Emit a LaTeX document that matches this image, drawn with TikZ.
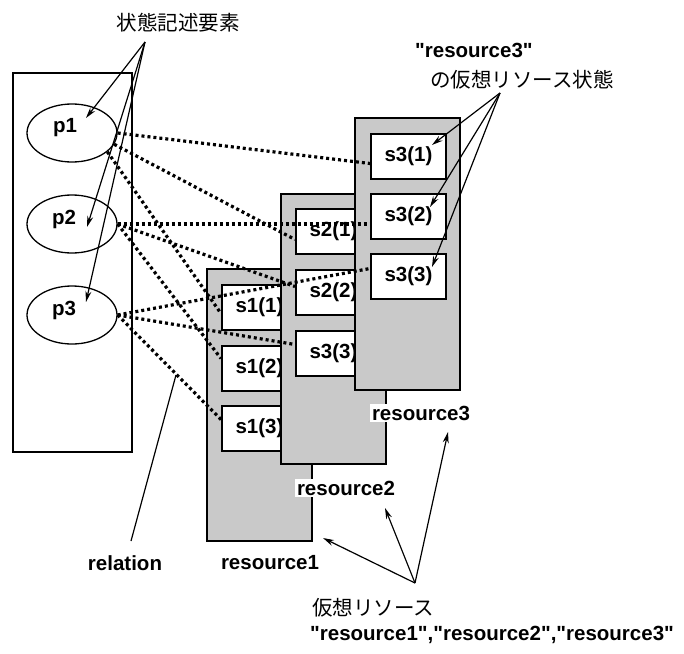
\documentclass[tikz,border=0pt]{standalone}
\usepackage{fontspec}
\setmainfont{Liberation Sans}[Ligatures=TeXOff]
\newfontfamily\jpfont{Noto Sans CJK JP}
\usetikzlibrary{arrows.meta,calc,shapes.geometric}
\begin{document}
\begin{tikzpicture}[x=1pt,y=-1pt,
  lbl/.style={font=\fontsize{20.5}{24}\selectfont\bfseries, inner sep=1pt},
  whitelbl/.style={lbl, fill=white, inner sep=2pt},
  jptext/.style={font=\fontsize{20.5}{24}\selectfont\jpfont, inner sep=0pt},
  resbox/.style={draw, line width=1.8pt, fill=black!21, minimum width=105pt, anchor=north west, inner sep=0pt},
  sbox/.style={draw, line width=2pt, fill=white, minimum width=75pt, minimum height=45pt, anchor=north west, inner sep=0pt, font=\fontsize{20.5}{24}\selectfont\bfseries},
  pell/.style={draw, ellipse, line width=1.3pt, fill=white, minimum width=90pt, minimum height=58pt, inner sep=0pt},
  rel/.style={line width=3.2pt, dash pattern=on 3pt off 3pt},
  arr/.style={line width=1.2pt, -{Stealth[length=11pt,width=6pt]}},
  plain/.style={line width=1.2pt}
]
\useasboundingbox (0,0) rectangle (684,653);

% relation box with elements
\node[draw, line width=1.5pt, anchor=north west, minimum width=119pt, minimum height=379pt, inner sep=0pt] (relbox) at (12,72) {};
\node[pell] (p1) at (72,133) {};
\node[pell] (p2) at (72,224) {};
\node[pell] (p3) at (72,315) {};
\node[lbl] (p1t) at (65,128) {p1};
\node[lbl] (p2t) at (64,219) {p2};
\node[lbl] (p3t) at (64,310) {p3};

% resource 1
\node[resbox, minimum height=272pt] (r1) at (206,268) {};
\node[sbox] (s11) at (221,284) {s1(1)};
\node[sbox] (s12) at (221,345) {s1(2)};
\node[sbox] (s13) at (221,405) {s1(3)};
% resource 2
\node[resbox, minimum height=270pt] (r2) at (280,193) {};
\node[sbox] (s21) at (295,208) {s2(1)};
\node[sbox] (s22) at (295,269) {s2(2)};
\node[sbox] (s3b) at (295,330) {s3(3)};
% resource 3
\node[resbox, minimum height=272pt] (r3) at (354,117) {};
\node[sbox] (s31) at (370,133) {s3(1)};
\node[sbox] (s32) at (370,193) {s3(2)};
\node[sbox] (s33) at (370,253) {s3(3)};

% resource labels
\node[whitelbl] (l3) at (421,413) {resource3};
\node[whitelbl] (l2) at (346,488) {resource2};
\node[whitelbl] (l1) at (270,563) {resource1};

% dotted relations
\draw[rel] (p1.east) -- ([yshift=-7pt]s31.west);
\draw[rel] (p1.-15) -- ([yshift=-8pt]s21.west);
\draw[rel] (p1.-28) -- ([yshift=-6pt]s11.west);
\draw[rel] (p2.east) -- (p2.east -| s32.west);
\draw[rel] (p2.east) -- ([yshift=6pt]s22.west);
\draw[rel] (p2.east) -- ([yshift=10pt]s12.west);
\draw[rel] (p3.east) -- ([yshift=8pt]s33.west);
\draw[rel] (p3.east) -- ([yshift=9pt]s3b.west);
\draw[rel] (p3.east) -- ([yshift=9pt]s13.west);

% title: state description elements
\node[jptext] (t1) at (178,23) {状態記述要素};
\coordinate (a1) at (145,42);
\coordinate (tp1) at (86,118);
\coordinate (tp2) at (87,227);
\coordinate (tp3) at (86,302);
\draw[arr] (a1) -- (tp1);
\draw[arr] (a1) -- (tp2);
\draw[arr] (a1) -- (tp3);

% top right label
\node[lbl, anchor=west, inner sep=0pt] (t2a) at (415,50) {"resource3"};
\node[jptext, anchor=west] (t2b) at (430,80) {の仮想リソース状態};
\coordinate (a2) at (500,93);
\coordinate (tq1) at (432,145);
\coordinate (tq2) at (430,207);
\coordinate (tq3) at (432,267);
\draw[arr] (a2) -- (tq1);
\draw[arr] (a2) -- (tq2);
\draw[arr] (a2) -- (tq3);

% bottom label
\node[jptext, anchor=west] (t3a) at (312,608) {仮想リソース};
\node[lbl, anchor=west, inner sep=0pt] (t3b) at (310,635) {"resource1","resource2","resource3"};
\coordinate (a3) at (415,583);
\coordinate (tr1) at (323,538);
\coordinate (tr2) at (385,508);
\coordinate (tr3) at (448,432);
\draw[arr] (a3) -- (tr1);
\draw[arr] (a3) -- (tr2);
\draw[arr] (a3) -- (tr3);

% relation label
\node[lbl] (relt) at (125,563) {relation};
\coordinate (rl0) at (131,541);
\coordinate (rl1) at (176,375);
\draw[plain] (rl0) -- (rl1);
\end{tikzpicture}
\end{document}
